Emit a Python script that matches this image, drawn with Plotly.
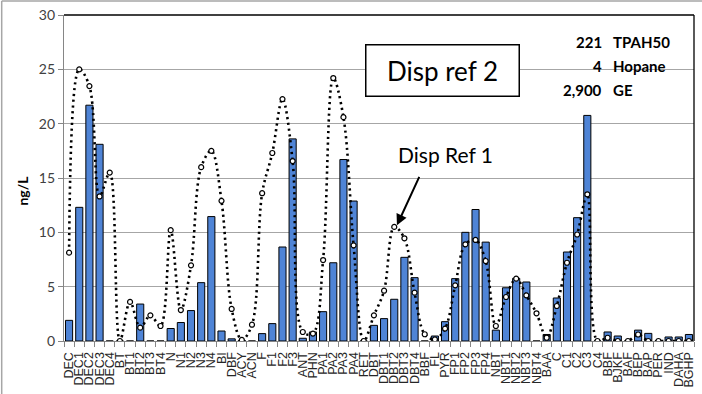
import plotly.graph_objects as go

categories = ["DEC","DEC1","DEC2","DEC3","DEC4","BT","BT1","BT2","BT3","BT4",
              "N","N1","N2","N3","N4","BI","DBF","ACY","ACN","F","F1","F2","F3",
              "ANT","PHN","PA1","PA2","PA3","PA4","RET","DBT","DBT1","DBT2","DBT3","DBT4",
              "BBF","FL","PYR","FP1","FP2","FP3","FP4","NBT","NBT1","NBT2","NBT3","NBT4",
              "BAA","C","C1","C2","C3","C4","BBF","BJKF","BAF","BEP","BAP","PER","IND",
              "DAHA","BGHP"]

sample_values = [1.9, 12.3, 21.7, 18.1, 0, 0, 0, 3.4, 0, 0,
                 1.15, 1.7, 2.8, 5.37, 11.45, 0.92, 0.2, 0.05, 0, 0.68, 1.6, 8.65, 18.6,
                 0.25, 0.83, 2.7, 7.2, 16.7, 12.88, 0, 1.44, 2.06, 3.84, 7.7, 5.83,
                 0, 0.46, 1.78, 5.74, 10.0, 12.1, 9.1, 1.0, 4.9, 5.77, 5.43, 0,
                 0.6, 3.96, 8.19, 11.35, 20.76, 0, 0.83, 0.46, 0, 1.0, 0.7, 0, 0.37,
                 0.37, 0.6]

ref_values = [8.13, 25.0, 23.46, 13.3, 15.5, 0, 3.6, 1.23, 2.36, 1.38,
              10.2, 2.85, 6.96, 16.0, 17.5, 12.9, 2.95, 0.1, 1.5, 13.6, 17.3, 22.26, 16.56,
              0.83, 0.68, 7.45, 24.2, 20.6, 8.8, 0, 2.36, 4.63, 10.5, 9.45, 4.45,
              0.62, 0.15, 1.14, 5.12, 8.9, 9.3, 7.36, 1.38, 4.05, 5.74, 4.2, 2.55,
              0.3, 3.22, 7.2, 9.8, 13.5, 0, 0.3, 0, 0, 0.6, 0, 0, 0,
              0, 0]

y_ticks = [0, 5, 10, 15, 20, 25, 30]
summary_numbers = ["221", "4", "2,900"]
summary_labels = ["TPAH50", "Hopane", "GE"]

x_idx = list(range(len(categories)))

W, H = 702, 394
ML, MR, MT, MB = 64, 6, 15, 52
PW, PH = W - ML - MR, H - MT - MB

def px_x(px):
    return (px - ML) / PW

def px_y(py):
    return (H - MB - py) / PH

fig = go.Figure()
fig.add_trace(go.Bar(
    x=x_idx, y=sample_values, width=0.7,
    marker=dict(color="#4F84D6", line=dict(color="#000000", width=1)),
    showlegend=False,
))
fig.add_trace(go.Scatter(
    x=x_idx, y=ref_values, mode="lines+markers",
    line=dict(color="#000000", width=2.6, dash="2.2px,3.6px", shape="spline", smoothing=1),
    marker=dict(symbol="circle", size=5, color="#FFFFFF", line=dict(color="#000000", width=1.2)),
    showlegend=False,
))

font_main = "Lato, 'Open Sans', sans-serif"

fig.update_layout(
    width=W, height=H,
    margin=dict(l=ML, r=MR, t=MT, b=MB),
    paper_bgcolor="white", plot_bgcolor="white",
    bargap=0.3,
    xaxis=dict(
        range=[-0.5, len(categories) - 0.5],
        tickmode="array", tickvals=x_idx, ticktext=categories,
        tickangle=-90, ticks="", ticklabelstandoff=5,
        tickfont=dict(family="'Liberation Sans', Arial, sans-serif", size=12.5, color="#262626"),
        showgrid=False, zeroline=False,
        showline=True, linecolor="#868686", linewidth=1.3,
        minor=dict(ticks="outside", ticklen=5, tickcolor="#868686", tickwidth=1,
                   tickmode="linear", tick0=-0.5, dtick=1, showgrid=False),
    ),
    yaxis=dict(
        range=[0, 30], tickmode="array", tickvals=y_ticks,
        ticks="outside", ticklen=5, tickcolor="#868686",
        tickfont=dict(family=font_main, size=14, color="#404040"),
        showgrid=True, gridcolor="#A6A6A6", gridwidth=1.3,
        zeroline=False, showline=True, linecolor="#868686", linewidth=1.3,
    ),
)

shapes = [
    dict(type="line", xref="paper", yref="paper", x0=0, x1=1, y0=1, y1=1,
         line=dict(color="#000000", width=1.3), layer="above"),
    dict(type="line", xref="paper", yref="paper", x0=1, x1=1, y0=0, y1=1,
         line=dict(color="#000000", width=1.3), layer="above"),
    dict(type="line", xref="paper", yref="paper", x0=px_x(1.5), x1=px_x(W + 5), y0=px_y(1), y1=px_y(1),
         line=dict(color="#A6A6A6", width=1.5), layer="above"),
    dict(type="line", xref="paper", yref="paper", x0=px_x(1.5), x1=px_x(1.5), y0=px_y(1), y1=px_y(H + 5),
         line=dict(color="#A6A6A6", width=1.5), layer="above"),
]
fig.update_layout(shapes=shapes)

ann = []
ann.append(dict(xref="paper", yref="paper", x=px_x(444), y=px_y(70.5), text="Disp ref 2",
                showarrow=False, font=dict(family=font_main, size=26, color="#000000"),
                bgcolor="white", bordercolor="#000000", borderwidth=1.5, borderpad=1,
                width=150, height=48, xanchor="center", yanchor="middle"))
ann.append(dict(xref="paper", yref="paper", x=px_x(447), y=px_y(155), text="Disp Ref 1",
                showarrow=False, font=dict(family=font_main, size=21, color="#000000"),
                xanchor="center", yanchor="middle"))
ann.append(dict(xref="paper", yref="paper", x=px_x(398), y=px_y(226), text="",
                showarrow=True, ax=23, ay=-50, axref="pixel", ayref="pixel",
                arrowhead=2, arrowsize=1.1, arrowwidth=2, arrowcolor="#000000", standoff=0))
for i, (n, l) in enumerate(zip(summary_numbers, summary_labels)):
    yy = [42, 66, 90][i]
    ann.append(dict(xref="paper", yref="paper", x=px_x(606), y=px_y(yy), text="<b>%s</b>" % n,
                    showarrow=False, xanchor="right", yanchor="middle",
                    font=dict(family=font_main, size=15, color="#000000")))
    ann.append(dict(xref="paper", yref="paper", x=px_x(613), y=px_y(yy), text="<b>%s</b>" % l,
                    showarrow=False, xanchor="left", yanchor="middle",
                    font=dict(family=font_main, size=15, color="#000000")))
ann.append(dict(xref="paper", yref="paper", x=px_x(22), y=px_y(191), text="<b>ng/L</b>",
                showarrow=False, textangle=-90, xanchor="center", yanchor="middle",
                font=dict(family=font_main, size=14, color="#000000")))
fig.update_layout(annotations=ann)

fig.write_html("out.html")
